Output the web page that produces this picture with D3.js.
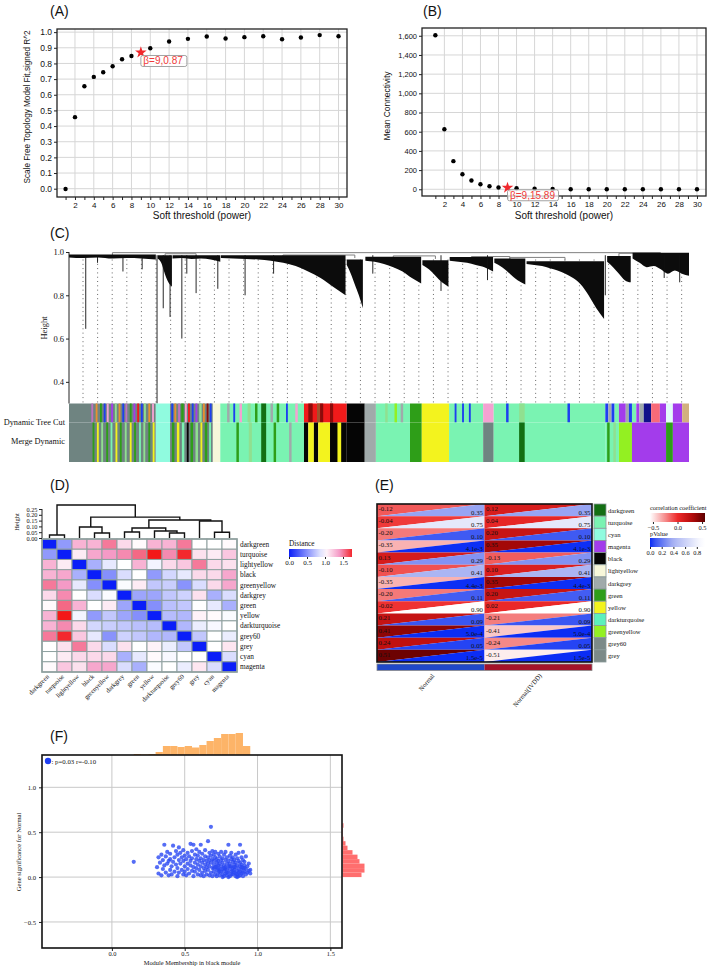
<!DOCTYPE html>
<html>
<head>
<meta charset="utf-8">
<script src="https://cdn.jsdelivr.net/npm/d3@7"></script>
<style>
  body { margin: 0; background: #fff; }
</style>
</head>
<body>
<svg id="fig" width="709" height="966"></svg>
<script>
// ---------- (A)/(B) soft threshold ----------
const powers = [1, 2, 3, 4, 5, 6, 7, 8, 9, 10, 12, 14, 16, 18, 20, 22, 24, 26, 28, 30];
const fitR2 = [-0.002, 0.457, 0.654, 0.714, 0.744, 0.782, 0.827, 0.848, 0.87, 0.897, 0.94, 0.957, 0.972, 0.959, 0.968, 0.974, 0.955, 0.966, 0.981, 0.974];
const meanK = [1605, 626, 293, 157, 91, 52, 31, 18, 15.89, 11, 6, 3.5, 1, 0.5, 0.3, 0.2, 0.1, 0.1, 0.1, 0.1];
const pickedPower = 9;

// ---------- (C) dendrogram + module colours ----------
// blocks of the gene tree: leaf position in % of all genes, top height, lower envelope heights
const dendroBlocks = [
  { x0: 0, x1: 14.0, top: 0.988, low: [0.975, 0.972, 0.975, 0.97, 0.972, 0.97, 0.965] },
  { x0: 14.3, x1: 16.6, top: 0.985, low: [0.97, 0.95, 0.9, 0.86, 0.84] },
  { x0: 16.7, x1: 24.4, top: 0.985, low: [0.97, 0.972, 0.968, 0.97, 0.965, 0.955] },
  { x0: 24.5, x1: 44.6, top: 0.985, low: [0.972, 0.97, 0.968, 0.965, 0.96, 0.95, 0.935, 0.91, 0.88, 0.84, 0.8] },
  { x0: 44.8, x1: 47.4, top: 0.965, low: [0.94, 0.9, 0.85, 0.8, 0.74] },
  { x0: 47.8, x1: 56.8, top: 0.978, low: [0.96, 0.955, 0.945, 0.93, 0.91, 0.88, 0.855] },
  { x0: 57.0, x1: 61.2, top: 0.962, low: [0.94, 0.92, 0.89, 0.86, 0.84] },
  { x0: 61.4, x1: 68.4, top: 0.977, low: [0.96, 0.955, 0.95, 0.94, 0.93, 0.91] },
  { x0: 68.6, x1: 73.6, top: 0.97, low: [0.95, 0.93, 0.9, 0.87, 0.85] },
  { x0: 73.8, x1: 86.3, top: 0.957, low: [0.945, 0.94, 0.935, 0.925, 0.915, 0.9, 0.88, 0.85, 0.8, 0.74, 0.69] },
  { x0: 86.8, x1: 90.6, top: 0.982, low: [0.955, 0.93, 0.9, 0.87, 0.86] },
  { x0: 90.9, x1: 100, top: 0.996, low: [0.97, 0.95, 0.93, 0.935, 0.92, 0.9, 0.915, 0.9, 0.89] }
];
// single long branches [leaf %, lowest height]
const dendroSpikes = [[2.7, 0.645], [4.6, 0.95], [8.7, 0.91], [11.8, 0.92], [14.2, 0.3], [15.2, 0.74], [16.3, 0.7],
  [18.2, 0.6], [19.0, 0.9], [20.5, 0.81], [24.0, 0.83], [28.4, 0.8], [33, 0.9], [49, 0.9], [60, 0.82], [67.5, 0.87],
  [86.5, 0.8], [96, 0.88], [98.5, 0.86]];
// upper joins [from %, to %, height]
const dendroJoins = [[7, 95.4, 0.997], [15.5, 20.5, 0.992], [34.5, 46.1, 0.986], [52.3, 59.1, 0.982],
  [64.9, 71.1, 0.979], [71.1, 80.0, 0.975], [88.7, 95.4, 0.994]];

const treeCut = [
  [0, 14, "slate"],
  [3.6, 3.9, "violet"], [4.3, 4.6, "orange"], [5.0, 5.3, "green"], [5.6, 5.9, "blue"], [6.1, 6.4, "pink"], [6.8, 7.1, "magenta"],
  [7.4, 7.7, "lightgreen"], [8.0, 8.3, "orange"], [8.6, 8.9, "blue"], [9.1, 9.4, "violet"], [9.8, 10.1, "green"], [10.4, 10.7, "magenta"],
  [11.0, 11.3, "red"], [11.6, 11.9, "blue"], [12.1, 12.4, "lightgreen"], [12.8, 13.1, "orange"], [13.4, 13.7, "pink"],
  [14, 16.3, "cyan"],
  [16.3, 23.2, "slate"],
  [16.5, 16.8, "blue"], [17.0, 17.3, "orange"], [17.6, 17.9, "violet"], [18.1, 18.5, "green"], [18.7, 19.0, "pink"], [19.2, 19.5, "red"],
  [19.8, 20.1, "blue"], [20.4, 20.7, "magenta"], [21.0, 21.4, "lightgreen"], [21.6, 21.9, "orange"], [22.2, 22.5, "darkred"], [22.7, 23.0, "blue"],
  [23.2, 24.4, "lightyellow"],
  [24.4, 37.9, "turquoise"],
  [25.5, 25.9, "darkgrey"], [26.5, 26.8, "blue"], [27.5, 27.9, "pink"], [28.8, 29.3, "lightgreen"], [30.0, 30.4, "green"], [31.0, 31.8, "darkgreen"],
  [32.5, 32.9, "darkgrey"], [33.5, 33.9, "green"], [35.0, 35.3, "blue"], [36.5, 36.9, "pink"],
  [37.9, 44.8, "red"],
  [38.6, 39.3, "darkred"], [40.0, 40.5, "brown"], [40.5, 41.0, "darkred"], [42.1, 42.6, "darkred"],
  [44.8, 47.7, "black"],
  [47.7, 49.5, "darkgrey"],
  [49.5, 55.0, "turquoise"], [51, 51.4, "lightgreen"], [52.5, 52.9, "greenyellow"], [53.5, 53.9, "darkgrey"],
  [55.0, 56.9, "green"],
  [56.9, 61.3, "yellow"],
  [61.3, 66.8, "turquoise"], [62.2, 62.5, "blue"], [63.4, 63.7, "blue"], [64.5, 64.8, "blue"],
  [66.8, 68.5, "pink"],
  [68.5, 86.5, "turquoise"], [70.5, 70.9, "blue"], [72.6, 73.5, "lightgreen"], [80.4, 80.8, "blue"],
  [86.5, 87.0, "blue"], [87.0, 87.5, "darkgrey"], [87.5, 88.0, "blue"], [88.0, 88.7, "turquoise"],
  [88.7, 89.8, "magenta"],
  [89.8, 90.3, "darkgrey"], [90.3, 90.8, "blue"], [90.8, 91.5, "turquoise"], [91.5, 92.0, "magenta"], [92.0, 92.7, "darkgrey"],
  [92.7, 93.9, "navy"],
  [93.9, 95.3, "salmon"],
  [95.3, 96.3, "magenta"],
  [96.3, 97.4, "lightcyan"],
  [97.4, 98.9, "magenta"],
  [98.9, 100, "tan"]
];
const mergeDyn = [
  [0, 14, "slate"],
  [3.8, 4.1, "green"], [4.5, 4.8, "yellow"], [5.2, 5.5, "lightgreen"], [6.0, 6.3, "green"], [6.7, 7.0, "turquoise"], [7.5, 7.8, "yellow"],
  [8.2, 8.5, "green"], [9.0, 9.3, "lightgreen"], [9.8, 10.1, "yellow"], [10.5, 10.8, "green"], [11.3, 11.6, "turquoise"],
  [12.0, 12.3, "lightgreen"], [12.8, 13.1, "green"], [13.5, 13.8, "yellow"],
  [14, 16.3, "cyan"],
  [16.3, 23.2, "slate"], [16.6, 17.0, "green"], [17.4, 17.8, "yellow"], [18.2, 18.6, "turquoise"], [19.0, 19.3, "black"], [19.6, 20.0, "green"],
  [20.4, 20.8, "lightgreen"], [21.2, 21.5, "yellow"], [21.9, 22.3, "green"], [22.6, 22.9, "turquoise"],
  [23.2, 24.4, "lightyellow"],
  [24.4, 37.9, "turquoise"], [27.0, 27.4, "green"], [29.0, 29.5, "lightgreen"], [31.0, 31.8, "darkgreen"], [33.0, 33.4, "green"], [35.5, 35.9, "darkgrey"],
  [37.9, 38.6, "black"], [38.6, 39.5, "yellow"], [39.5, 40.2, "black"], [40.2, 42.1, "yellow"], [42.1, 44.8, "black"], [43.3, 43.9, "yellow"],
  [44.8, 47.7, "black"],
  [47.7, 49.5, "darkgrey"],
  [49.5, 55.0, "turquoise"],
  [55.0, 56.9, "green"],
  [56.9, 61.3, "yellow"],
  [61.3, 66.8, "turquoise"],
  [66.8, 68.5, "slate"],
  [68.5, 86.5, "turquoise"], [72.6, 73.5, "darkgreen"],
  [86.5, 88.7, "turquoise"], [86.8, 87.2, "green"], [87.8, 88.2, "lightgreen"],
  [88.7, 90.8, "greenyellow"],
  [90.8, 96.3, "magenta"],
  [96.3, 97.4, "green"],
  [97.4, 100, "magenta"]
];
const heightTicks = [0.4, 0.6, 0.8, 1.0];

// ---------- (D) eigengene distance ----------
const dModules = ["darkgreen", "turquoise", "lightyellow", "black", "greenyellow", "darkgrey", "green", "yellow", "darkturquoise", "grey60", "grey", "cyan", "magenta"];
// merges: [left, right, height] — "L" leaf index, "M" earlier merge
const dMerges = [
  ["L0", "L1", 0.026], ["L3", "L4", 0.043], ["L2", "M1", 0.095], ["L5", "L6", 0.052],
  ["L8", "L9", 0.043], ["L7", "M4", 0.06], ["M3", "M5", 0.086], ["L11", "L12", 0.05],
  ["L10", "M7", 0.147], ["M6", "M8", 0.155], ["M2", "M9", 0.18], ["M0", "M10", 0.284]
];
const dDist = [
  [0, 0.55, 1.3, 1.3, 1.5, 1.15, 1.02, 1.3, 1.3, 1.5, 1.0, 1.0, 1.02],
  [0.55, 0, 1.08, 1.35, 1.4, 1.45, 1.55, 1.8, 1.45, 1.75, 1.12, 1.08, 1.22],
  [1.3, 1.08, 0, 0.65, 0.9, 1.0, 1.3, 0.95, 1.15, 1.22, 1.5, 1.15, 1.12],
  [1.3, 1.35, 0.65, 0, 0.5, 0.85, 1.0, 0.55, 0.82, 0.9, 1.15, 1.15, 1.35],
  [1.5, 1.4, 0.9, 0.5, 0, 0.98, 1.08, 0.75, 0.78, 0.52, 0.85, 1.15, 1.35],
  [1.15, 1.45, 1.0, 0.85, 0.98, 0, 0.6, 0.6, 0.75, 0.8, 1.12, 0.65, 0.85],
  [1.02, 1.55, 1.3, 1.0, 1.08, 0.6, 0, 0.5, 0.72, 0.75, 1.0, 0.9, 0.65],
  [1.3, 1.8, 0.95, 0.55, 0.75, 0.6, 0.5, 0, 0.7, 0.68, 1.05, 1.02, 0.98],
  [1.3, 1.45, 1.15, 0.82, 0.78, 0.75, 0.72, 0.7, 0, 0.68, 0.92, 0.97, 1.0],
  [1.5, 1.75, 1.22, 0.9, 0.52, 0.8, 0.75, 0.68, 0.68, 0, 0.75, 1.0, 0.92],
  [1.0, 1.12, 1.5, 1.15, 0.85, 1.12, 1.0, 1.05, 0.92, 0.75, 0, 1.0, 1.1],
  [1.0, 1.08, 1.15, 1.15, 1.15, 0.65, 0.9, 1.02, 0.97, 1.0, 1.0, 0, 0.85],
  [1.02, 1.22, 1.12, 1.35, 1.35, 0.85, 0.65, 0.98, 1.0, 0.92, 1.1, 0.85, 0]
];
const dHeightTicks = [0, 0.05, 0.1, 0.15, 0.2, 0.25];
const distTicks = [0, 0.5, 1.0, 1.5];

// ---------- (E) module–trait ----------
const eModules = ["darkgreen", "turquoise", "cyan", "magenta", "black", "lightyellow", "darkgrey", "green", "yellow", "darkturquoise", "greenyellow", "grey60", "grey"];
const traits = ["Normal", "Normal(IVDD)"];
const corNormal = [-0.12, -0.04, -0.20, -0.35, 0.13, -0.10, -0.35, -0.20, -0.02, 0.21, 0.41, 0.24, 0.51];
const corIVDD = [0.12, 0.04, 0.20, 0.35, -0.13, 0.10, 0.35, 0.20, 0.02, -0.21, -0.41, -0.24, -0.51];
const pValues = [0.35, 0.75, 0.10, 4.1e-3, 0.29, 0.41, 4.4e-3, 0.11, 0.90, 0.09, 5.0e-4, 0.05, 1.5e-5];
const corTicks = [-0.5, 0.0, 0.5];
const pTicks = [0.0, 0.2, 0.4, 0.6, 0.8];

// ---------- (F) MM vs GS, black module ----------
const mmGs = [
  [0.15, 0.17], [0.31, 0.11], [0.32, 0.22], [0.32, 0.04], [0.33, 0.16], [0.34, 0.25], [0.34, 0.02], [0.35, 0.09], [0.35, 0.19],
  [0.36, 0.13], [0.36, 0.36], [0.37, 0.05], [0.37, 0.23], [0.38, 0.28], [0.38, 0.15], [0.39, 0.02], [0.39, 0.18], [0.40, 0.08],
  [0.40, 0.26], [0.40, 0.20], [0.41, 0.12], [0.41, 0.03], [0.42, 0.35], [0.42, 0.17], [0.43, 0.22], [0.43, 0.06], [0.44, 0.29],
  [0.44, 0.14], [0.45, 0.01], [0.45, 0.25], [0.45, 0.10], [0.46, 0.19], [0.46, 0.33], [0.46, 0.05], [0.47, 0.27], [0.47, 0.15],
  [0.48, 0.08], [0.48, 0.22], [0.49, 0.03], [0.49, 0.18], [0.49, 0.30], [0.50, 0.12], [0.50, 0.24], [0.50, 0.06],
  [0.51, 0.20], [0.51, 0.02], [0.52, 0.15], [0.52, 0.27], [0.52, 0.09], [0.53, 0.23], [0.53, 0.04], [0.54, 0.37], [0.54, 0.13],
  [0.54, 0.18], [0.55, 0.07], [0.55, 0.29], [0.55, 0.21], [0.56, 0.36], [0.56, 0.11], [0.56, 0.01], [0.57, 0.25], [0.57, 0.16],
  [0.57, 0.06], [0.58, 0.20], [0.58, 0.31], [0.58, 0.10], [0.59, 0.03], [0.59, 0.14], [0.59, 0.24], [0.60, 0.18], [0.60, 0.08],
  [0.60, 0.28], [0.61, 0.36], [0.61, 0.12], [0.61, 0.02], [0.61, 0.21], [0.62, 0.16], [0.62, 0.05], [0.62, 0.26], [0.63, 0.10],
  [0.63, 0.19], [0.63, 0.01], [0.64, 0.23], [0.64, 0.14], [0.64, 0.07], [0.64, 0.30], [0.65, 0.03], [0.65, 0.18], [0.65, 0.11],
  [0.66, 0.40], [0.66, 0.22], [0.66, 0.08], [0.66, 0.15], [0.67, 0.02], [0.67, 0.27], [0.67, 0.12], [0.67, 0.19], [0.68, 0.56],
  [0.68, 0.05], [0.68, 0.24], [0.68, 0.16], [0.69, 0.10], [0.69, 0.29], [0.69, 0.01], [0.69, 0.20], [0.70, 0.14], [0.70, 0.06],
  [0.70, 0.25], [0.70, 0.18], [0.71, 0.03], [0.71, 0.22], [0.71, 0.11], [0.71, 0.28], [0.72, 0.08], [0.72, 0.16], [0.72, 0.01],
  [0.72, 0.20], [0.73, 0.13], [0.73, 0.26], [0.73, 0.05], [0.73, 0.18], [0.74, 0.09], [0.74, 0.23], [0.74, 0.02], [0.74, 0.15],
  [0.75, 0.19], [0.75, 0.06], [0.75, 0.28], [0.75, 0.12], [0.76, 0.03], [0.76, 0.21], [0.76, 0.09], [0.76, 0.16], [0.77, 0.25],
  [0.77, 0.13], [0.77, 0.01], [0.77, 0.07], [0.78, 0.19], [0.78, 0.11], [0.78, 0.04], [0.78, 0.28], [0.79, 0.15], [0.79, 0.08],
  [0.79, 0.22], [0.79, 0.02], [0.80, 0.36], [0.80, 0.12], [0.80, 0.18], [0.80, 0.05],
  [0.81, 0.09], [0.81, 0.24], [0.81, 0.01], [0.81, 0.15], [0.82, 0.20], [0.82, 0.06], [0.82, 0.12], [0.82, 0.27], [0.83, 0.03],
  [0.83, 0.17], [0.83, 0.10], [0.83, 0.22], [0.84, 0.14], [0.84, 0.05], [0.84, 0.08], [0.84, 0.19], [0.85, 0.01], [0.85, 0.25],
  [0.85, 0.11], [0.85, 0.16], [0.86, 0.07], [0.86, 0.21], [0.86, 0.03], [0.86, 0.13], [0.87, 0.18], [0.87, 0.09], [0.87, 0.05],
  [0.87, 0.27], [0.88, 0.36], [0.88, 0.12], [0.88, 0.02], [0.88, 0.16], [0.89, 0.08], [0.89, 0.22], [0.89, 0.04], [0.89, 0.14],
  [0.90, 0.10], [0.90, 0.19], [0.90, 0.01], [0.90, 0.28], [0.91, 0.06], [0.91, 0.13], [0.91, 0.17], [0.92, 0.03], [0.92, 0.09],
  [0.92, 0.23], [0.93, 0.05], [0.93, 0.12], [0.94, 0.07], [0.94, 0.15], [0.95, 0.04], [0.95, 0.08],
  [0.70, 0.10], [0.72, 0.12], [0.74, 0.06], [0.76, 0.00], [0.78, 0.09], [0.80, 0.00], [0.82, 0.03], [0.84, 0.11], [0.86, 0.00],
  [0.88, 0.06], [0.90, 0.05], [0.79, 0.05], [0.83, 0.07], [0.87, 0.01], [0.91, 0.10], [0.85, 0.04], [0.73, 0.09], [0.77, 0.10],
  [0.81, 0.12], [0.89, 0.11]
];
const mmBinStart = [0.15, 0.20, 0.25, 0.30, 0.35, 0.40, 0.45, 0.50, 0.55, 0.60, 0.65, 0.70, 0.75, 0.80, 0.85, 0.90];
const mmCounts = [2, 1, 2, 6, 18, 18, 16, 18, 15, 20, 28, 34, 42, 42, 44, 18];
const gsBinStart = [0.00, 0.05, 0.10, 0.15, 0.20, 0.25, 0.30, 0.35, 0.40, 0.45, 0.50, 0.55];
const gsCounts = [38, 44, 44, 34, 30, 20, 10, 6, 2, 1, 1, 2];
const fTicksX = [0, 0.5, 1.0, 1.5];
const fTicksY = [-0.5, 0, 0.5, 1.0];

// ---------- drawing ----------
const SANS = "'Liberation Sans', Arial, sans-serif";
const SERIF = "'Liberation Serif', 'Times New Roman', serif";
const modColor = {
  slate: "#6f8481", turquoise: "#7af3b2", cyan: "#90fbdf", blue: "#1d3ff0", brown: "#a0522d", red: "#f01a1a",
  darkred: "#8b0b0b", black: "#050505", yellow: "#f3f31e", green: "#2e9e18", darkgreen: "#136f13", greenyellow: "#93f022",
  pink: "#f4a2d2", lightyellow: "#f7f7da", navy: "#10108a", salmon: "#f86a78", lightcyan: "#e2fafa", tan: "#d2b07e",
  orange: "#e89030", violet: "#c070c0", darkgrey: "#a0aaaa", lightgreen: "#90e090", magenta: "#a33ceb",
  darkturquoise: "#5cf0bc", grey60: "#7c8a88", grey: "#7c8a88"
};

const svg = d3.select("#fig");
svg.append("rect").attr("width", 709).attr("height", 966).attr("fill", "#fff");

function label(g, t, x, y, o = {}) {
  return g.append("text").attr("x", x).attr("y", y)
    .attr("font-family", o.serif ? SERIF : SANS).attr("font-size", o.size || 8)
    .attr("text-anchor", o.anchor || "start").attr("fill", o.fill || "#111").text(t);
}
function vlabel(g, t, x, y, o = {}) {
  return g.append("text").attr("transform", `translate(${x},${y}) rotate(-90)`)
    .attr("font-family", o.serif ? SERIF : SANS).attr("font-size", o.size || 8)
    .attr("text-anchor", "middle").attr("fill", "#111").text(t);
}
function styleAxis(sel, size, serif) {
  sel.select(".domain").remove();
  sel.selectAll("text").attr("font-family", serif ? SERIF : SANS).attr("font-size", size).attr("fill", "#111");
  sel.selectAll("line").attr("stroke", "#222");
}

[["(A)", 50, 16], ["(B)", 423, 16], ["(C)", 50, 238], ["(D)", 50, 490], ["(E)", 375, 490], ["(F)", 50, 741]]
  .forEach(d => label(svg, d[0], d[1], d[2], { size: 14 }));

// (A) and (B)
function thresholdPanel(o) {
  const g = svg.append("g");
  const x = d3.scaleLinear().domain(o.xDomain).range([o.left, o.right]);
  const y = d3.scaleLinear().domain(o.yDomain).range([o.bottom, o.top]);
  g.append("g").selectAll("line").data(d3.range(2, 31, 2)).join("line")
    .attr("x1", d => x(d)).attr("x2", d => x(d)).attr("y1", o.top).attr("y2", o.bottom)
    .attr("stroke", "#d6d6d6");
  g.append("g").selectAll("line").data(o.yTicks).join("line")
    .attr("x1", o.left).attr("x2", o.right).attr("y1", d => y(d)).attr("y2", d => y(d))
    .attr("stroke", "#d6d6d6");
  g.append("g").attr("transform", `translate(0,${o.bottom})`)
    .call(d3.axisBottom(x).tickValues(d3.range(1, 31)).tickSize(3).tickPadding(2).tickSizeOuter(0)
      .tickFormat(d => d % 2 ? "" : d))
    .call(s => styleAxis(s, 8));
  g.append("g").attr("transform", `translate(${o.left},0)`)
    .call(d3.axisLeft(y).tickValues(o.yTicks).tickSize(3).tickPadding(2).tickSizeOuter(0).tickFormat(o.yFmt))
    .call(s => styleAxis(s, o.yFont));
  g.append("rect").attr("x", o.left).attr("y", o.top).attr("width", o.right - o.left).attr("height", o.bottom - o.top)
    .attr("fill", "none").attr("stroke", "#222").attr("stroke-width", 1.3);

  const pts = powers.map((p, i) => ({ p, v: o.values[i] }));
  g.append("g").selectAll("circle").data(pts.filter(d => d.p !== pickedPower)).join("circle")
    .attr("cx", d => x(d.p)).attr("cy", d => y(d.v)).attr("r", 2.2).attr("fill", "#000");
  const pick = pts.find(d => d.p === pickedPower);
  const sx = x(pick.p), sy = y(pick.v);
  g.append("path").attr("d", d3.symbol().type(d3.symbolStar).size(42)())
    .attr("transform", `translate(${sx},${sy})`).attr("fill", "#f0282d");
  g.append("rect").attr("x", sx).attr("y", sy + o.boxDy).attr("width", o.boxW).attr("height", 11).attr("rx", 2)
    .attr("fill", "#fff").attr("fill-opacity", 0.75).attr("stroke", "#999").attr("stroke-width", 0.9);
  label(g, `β=${pick.p},${o.fmtPick(pick.v)}`, sx + 2.5, sy + o.boxDy + 9, { size: 10, fill: "#f03a3a" });

  label(g, "Soft threshold (power)", (o.left + o.right) / 2, 219, { size: 10, anchor: "middle" });
  vlabel(g, o.yTitle, o.yTitleX, (o.top + o.bottom) / 2 - 6, { size: o.yTitleSize })
    .attr("textLength", o.yTitleLen).attr("lengthAdjust", "spacingAndGlyphs");
}
thresholdPanel({
  left: 57, right: 347, top: 29, bottom: 197, xDomain: [0.09, 30.9], yDomain: [-0.053, 1.02],
  yTicks: d3.range(0, 11).map(i => i / 10), yFmt: d3.format(".1f"), yFont: 8.5, values: fitR2,
  fmtPick: v => v.toFixed(2), boxDy: 3, boxW: 46,
  yTitle: "Scale Free Topology Model Fit,signed R^2", yTitleX: 30, yTitleSize: 9.5, yTitleLen: 153
});
thresholdPanel({
  left: 422, right: 706, top: 28, bottom: 196, xDomain: [-0.48, 31.0], yDomain: [-70, 1681],
  yTicks: d3.range(0, 1601, 200), yFmt: d3.format(","), yFont: 7.5, values: meanK,
  fmtPick: v => v.toFixed(2), boxDy: 2, boxW: 51,
  yTitle: "Mean Connectivity", yTitleX: 390, yTitleSize: 9, yTitleLen: 69
});

// (C)
const xC = d3.scaleLinear().domain([0, 100]).range([69, 689]);
const yC = d3.scaleLinear().domain([0.3, 1.0]).range([403.5, 252]);
const gC = svg.append("g");
gC.append("g").selectAll("line").data(d3.range(42).map(i => 2.26 + i * 2.355)).join("line")
  .attr("x1", d => xC(d)).attr("x2", d => xC(d)).attr("y1", yC(0.965)).attr("y2", yC(0.305))
  .attr("stroke", "#444").attr("stroke-width", 0.9).attr("stroke-dasharray", "0.9 3.4");
gC.append("g").selectAll("path").data(dendroJoins).join("path")
  .attr("d", d => `M${xC(d[0])},${yC(d[2] - 0.014)}V${yC(d[2])}H${xC(d[1])}V${yC(d[2] - 0.014)}`)
  .attr("fill", "none").attr("stroke", "#808080").attr("stroke-width", 1);
const blockArea = d3.area().x(d => xC(d.x)).y0(d => yC(d.top)).y1(d => yC(d.low)).curve(d3.curveMonotoneX);
gC.append("g").selectAll("path").data(dendroBlocks).join("path")
  .attr("d", b => blockArea(b.low.map((l, i) => ({ x: b.x0 + (b.x1 - b.x0) * i / (b.low.length - 1), top: b.top, low: l }))))
  .attr("fill", "#0c0c0c");
gC.append("g").selectAll("line").data(dendroSpikes).join("line")
  .attr("x1", d => xC(d[0])).attr("x2", d => xC(d[0])).attr("y1", yC(0.985)).attr("y2", d => yC(d[1]))
  .attr("stroke", "#111").attr("stroke-width", 0.9);
gC.append("g").attr("transform", `translate(${xC(0)},0)`)
  .call(d3.axisLeft(yC).tickValues(heightTicks).tickSize(3).tickPadding(2).tickFormat(d3.format(".1f")))
  .call(s => { styleAxis(s, 8.5, true); })
  .append("line").attr("y1", yC(1.0)).attr("y2", yC(0.3)).attr("stroke", "#222");
vlabel(gC, "Height", 47, 328, { serif: true, size: 8.5 });
function colorRow(rows, y0, y1) {
  gC.append("g").selectAll("rect").data(rows).join("rect")
    .attr("x", d => xC(d[0])).attr("width", d => xC(d[1]) - xC(d[0]))
    .attr("y", y0).attr("height", y1 - y0).attr("fill", d => modColor[d[2]]);
}
colorRow(treeCut, 403.5, 422.5);
colorRow(mergeDyn, 422.5, 462);
label(gC, "Dynamic Tree Cut", 65, 425, { serif: true, size: 8.3, anchor: "end" });
label(gC, "Merge Dynamic", 65, 444, { serif: true, size: 8.3, anchor: "end" });

// (D)
const gD = svg.append("g");
const xD = d3.scaleBand().domain(dModules).range([42, 237]);
const yDr = d3.scaleBand().domain(dModules).range([539, 672]);
const yDh = d3.scaleLinear().domain([0, 0.25]).range([538, 509]);
const distColor = d3.scaleLinear().domain([0, 1, 1.4, 1.8]).range(["#0a1ef8", "#ffffff", "#f59ac6", "#f31818"]).clamp(true);
const cells = [];
dDist.forEach((row, i) => row.forEach((v, j) => cells.push({ i, j, v })));
gD.append("g").selectAll("rect").data(cells).join("rect")
  .attr("x", d => xD(dModules[d.j])).attr("y", d => yDr(dModules[d.i]))
  .attr("width", xD.bandwidth()).attr("height", yDr.bandwidth())
  .attr("fill", d => distColor(d.v)).attr("stroke", "#8fa09f").attr("stroke-width", 1);
gD.append("rect").attr("x", 42).attr("y", 539).attr("width", 195).attr("height", 133)
  .attr("fill", "none").attr("stroke", "#8fa09f").attr("stroke-width", 1.6);
// tree from merge list
const nodes = { };
dModules.forEach((m, i) => { nodes["L" + i] = { x: xD(m) + xD.bandwidth() / 2, h: 0 }; });
dMerges.forEach((m, k) => {
  const a = nodes[m[0]], b = nodes[m[1]];
  gD.append("path").attr("d", `M${a.x},${yDh(a.h)}V${yDh(m[2])}H${b.x}V${yDh(b.h)}`)
    .attr("fill", "none").attr("stroke", "#111").attr("stroke-width", 1.4);
  nodes["M" + k] = { x: (a.x + b.x) / 2, h: m[2] };
});
gD.append("g").attr("transform", "translate(42,0)")
  .call(d3.axisLeft(yDh).tickValues(dHeightTicks).tickSize(3).tickPadding(1.5).tickFormat(d3.format(".2f")))
  .call(s => styleAxis(s, 6.3, true))
  .append("line").attr("y1", yDh(0)).attr("y2", yDh(0.25)).attr("stroke", "#222");
vlabel(gD, "Height", 19, 522, { serif: true, size: 6.5 });
gD.append("g").selectAll("text").data(dModules).join("text")
  .attr("x", 240).attr("y", d => yDr(d) + yDr.bandwidth() / 2 + 2.5)
  .attr("font-family", SERIF).attr("font-size", 7.3).attr("fill", "#111").text(d => d);
gD.append("g").selectAll("text").data(dModules).join("text")
  .attr("transform", d => `translate(${xD(d) + xD.bandwidth() / 2},677) rotate(-45)`)
  .attr("text-anchor", "end").attr("font-family", SERIF).attr("font-size", 6.5).attr("fill", "#111").text(d => d);
// distance legend
const xDl = d3.scaleLinear().domain([0, 1.75]).range([289, 352]);
const defs = svg.append("defs");
function gradient(id, scale, domain) {
  const gr = defs.append("linearGradient").attr("id", id);
  d3.range(11).forEach(i => {
    const v = domain[0] + (domain[1] - domain[0]) * i / 10;
    gr.append("stop").attr("offset", i * 10 + "%").attr("stop-color", scale(v));
  });
}
gradient("gDist", distColor, xDl.domain());
label(gD, "Distance", 289, 546, { serif: true, size: 7.3 });
gD.append("rect").attr("x", 289).attr("y", 549).attr("width", 63).attr("height", 8).attr("fill", "url(#gDist)");
gD.append("g").attr("transform", "translate(0,557)")
  .call(d3.axisBottom(xDl).tickValues(distTicks).tickSize(2).tickPadding(1.5).tickFormat(d3.format(".1f")))
  .call(s => styleAxis(s, 7, true));

// (E)
const gE = svg.append("g");
const xE = d3.scaleBand().domain(traits).range([377, 592]);
const yE = d3.scaleBand().domain(eModules).range([504, 662]);
const corColor = d3.scaleLinear().domain([-0.56, -0.3, 0.0, 0.3, 0.56])
  .range(["#ffffff", "#f7a0a0", "#ee2a2a", "#b40a0a", "#5c0000"]).clamp(true);
const pColor = d3.scaleLinear().domain([0, 0.1, 0.4, 0.9, 1]).range(["#0b2df5", "#3f5af3", "#a9b3f3", "#ffffff", "#ffffff"]);
const eCells = [];
eModules.forEach((m, i) => {
  eCells.push({ m, t: traits[0], r: corNormal[i], p: pValues[i] });
  eCells.push({ m, t: traits[1], r: corIVDD[i], p: pValues[i] });
});
const eG = gE.append("g").selectAll("g").data(eCells).join("g")
  .attr("transform", d => `translate(${xE(d.t)},${yE(d.m)})`);
const cw = xE.bandwidth(), ch = yE.bandwidth();
eG.append("path").attr("d", `M0,0H${cw}L0,${ch}Z`).attr("fill", d => corColor(d.r));
eG.append("path").attr("d", `M0,${ch}L${cw},0V${ch}Z`).attr("fill", d => pColor(d.p));
eG.append("text").attr("x", 1.5).attr("y", 7).attr("font-family", SERIF).attr("font-size", 6.8).attr("fill", "#111")
  .text(d => d.r.toFixed(2));
eG.append("text").attr("x", cw - 1.5).attr("y", ch - 1.5).attr("text-anchor", "end")
  .attr("font-family", SERIF).attr("font-size", 6.8).attr("fill", "#111")
  .text(d => d.p < 0.01 ? d3.format(".1e")(d.p) : d.p.toFixed(2));
gE.append("rect").attr("x", 377).attr("y", 504).attr("width", 215).attr("height", 158)
  .attr("fill", "none").attr("stroke", "#111").attr("stroke-width", 1.6);
gE.append("g").selectAll("rect").data(traits).join("rect")
  .attr("x", d => xE(d)).attr("width", cw).attr("y", 664).attr("height", 6.5)
  .attr("fill", (d, i) => i ? "#a3122a" : "#1f48c8");
gE.append("rect").attr("x", 377).attr("y", 664).attr("width", 215).attr("height", 6.5)
  .attr("fill", "none").attr("stroke", "#8a8a8a").attr("stroke-width", 0.8);
gE.append("g").selectAll("rect").data(eModules).join("rect")
  .attr("x", 594).attr("width", 12).attr("y", d => yE(d)).attr("height", ch)
  .attr("fill", d => modColor[d]).attr("stroke", "#8a9a9a").attr("stroke-width", 0.8);
gE.append("g").selectAll("text").data(eModules).join("text")
  .attr("x", 608).attr("y", d => yE(d) + ch / 2 + 2.5)
  .attr("font-family", SERIF).attr("font-size", 6.6).attr("fill", "#111").text(d => d);
gE.append("g").selectAll("text").data(traits).join("text")
  .attr("transform", d => `translate(${xE(d) + cw / 2 + 4},676) rotate(-50)`)
  .attr("text-anchor", "end").attr("font-family", SERIF).attr("font-size", 6.6).attr("fill", "#111").text(d => d);
const xCor = d3.scaleLinear().domain([-0.56, 0.56]).range([650, 705]);
const xP = d3.scaleLinear().domain([0, 0.94]).range([650, 705]);
gradient("gCor", corColor, xCor.domain());
gradient("gP", pColor, xP.domain());
label(gE, "correlation coefficient", 650, 510, { serif: true, size: 6.4 });
gE.append("rect").attr("x", 650).attr("y", 513).attr("width", 55).attr("height", 9).attr("fill", "url(#gCor)");
gE.append("g").attr("transform", "translate(0,522)")
  .call(d3.axisBottom(xCor).tickValues(corTicks).tickSize(2).tickPadding(1.5).tickFormat(d => d.toFixed(1).replace("-", "−")))
  .call(s => styleAxis(s, 6.4, true));
label(gE, "pValue", 650, 536, { serif: true, size: 6.4 });
gE.append("rect").attr("x", 650).attr("y", 538).attr("width", 55).attr("height", 9).attr("fill", "url(#gP)");
gE.append("g").attr("transform", "translate(0,547)")
  .call(d3.axisBottom(xP).tickValues(pTicks).tickSize(2).tickPadding(1.5).tickFormat(d3.format(".1f")))
  .call(s => styleAxis(s, 6.4, true));

// (F)
const gF = svg.append("g");
const xF = d3.scaleLinear().domain([-0.48, 1.58]).range([42, 342]);
const yF = d3.scaleLinear().domain([-0.79, 1.36]).range([948, 755]);
gF.append("g").selectAll("line").data(fTicksX).join("line")
  .attr("x1", d => xF(d)).attr("x2", d => xF(d)).attr("y1", 755).attr("y2", 948).attr("stroke", "#c8c8c8");
gF.append("g").selectAll("line").data(fTicksY).join("line")
  .attr("x1", 42).attr("x2", 342).attr("y1", d => yF(d)).attr("y2", d => yF(d)).attr("stroke", "#c8c8c8");
const hTop = d3.scaleLinear().domain([0, 44]).range([0, 22]);
gF.append("g").selectAll("rect").data(mmBinStart).join("rect")
  .attr("x", d => xF(d)).attr("width", d => xF(d + 0.05) - xF(d))
  .attr("y", (d, i) => 755 - hTop(mmCounts[i])).attr("height", (d, i) => hTop(mmCounts[i]))
  .attr("fill", "#fdb468");
gF.append("g").selectAll("rect").data(gsBinStart).join("rect")
  .attr("x", 342.5).attr("width", (d, i) => hTop(gsCounts[i]))
  .attr("y", d => yF(d + 0.05)).attr("height", d => yF(d) - yF(d + 0.05))
  .attr("fill", "#ff6e6e");
gF.append("g").selectAll("circle").data(mmGs).join("circle")
  .attr("cx", d => xF(d[0])).attr("cy", d => yF(d[1])).attr("r", 2.1)
  .attr("fill", "#2b48f2").attr("fill-opacity", 0.8);
gF.append("g").attr("transform", "translate(0,948)")
  .call(d3.axisBottom(xF).tickValues(fTicksX).tickSize(3).tickPadding(0.5).tickFormat(d3.format(".1f")))
  .call(s => styleAxis(s, 6.4, true));
gF.append("g").attr("transform", "translate(42,0)")
  .call(d3.axisLeft(yF).tickValues(fTicksY).tickSize(3).tickPadding(3).tickFormat(d3.format(".1f")))
  .call(s => styleAxis(s, 6.6, true));
gF.append("rect").attr("x", 42).attr("y", 755).attr("width", 300).attr("height", 193)
  .attr("fill", "none").attr("stroke", "#111").attr("stroke-width", 1.6);
gF.append("circle").attr("cx", 48).attr("cy", 761).attr("r", 3.2).attr("fill", "#1f3ff2");
label(gF, ": p=0.03 r=-0.10", 51.5, 763.5, { serif: true, size: 6.8 });
label(gF, "Module Membership in black module", 192, 964.5, { serif: true, size: 6.4, anchor: "middle" });
vlabel(gF, "Gene significance for Normal", 21, 852, { serif: true, size: 6.6 });
</script>
</body>
</html>
